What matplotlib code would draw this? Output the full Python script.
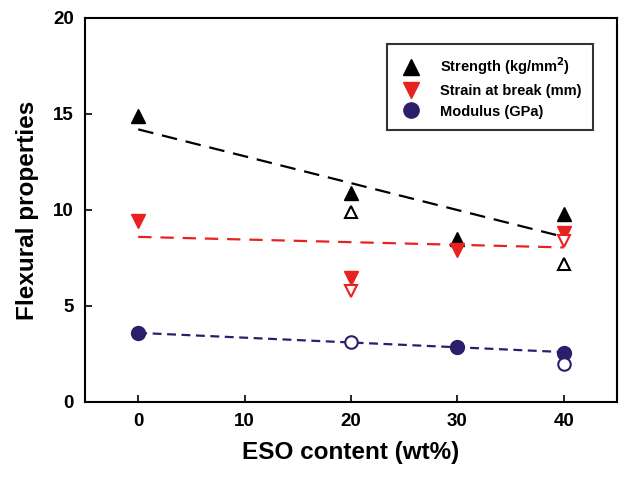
import matplotlib
matplotlib.use("Agg")
import matplotlib.pyplot as plt
from matplotlib.lines import Line2D

plt.rcParams['font.family'] = ['Liberation Sans', 'DejaVu Sans']
plt.rcParams['font.weight'] = 'bold'
plt.rcParams['mathtext.default'] = 'bf'

# Data
x_filled = [0, 20, 30, 40]
strength_filled = [14.9, 10.9, 8.5, 9.8]
strain_filled = [9.45, 6.45, 7.9, 8.8]
modulus_filled = [3.6, None, 2.85, 2.55]

x_hollow = [20, 40]
strength_hollow = [9.9, 7.2]
strain_hollow = [5.8, 8.4]
modulus_hollow = [3.1, 1.97]

trend_x = [0, 40]
strength_trend = [14.2, 8.6]
strain_trend = [8.6, 8.05]
modulus_trend = [3.6, 2.6]

xticks = [0, 10, 20, 30, 40]
yticks = [0, 5, 10, 15, 20]

black = '#000000'
red = '#e8231f'
navy = '#2b1f6b'

fig = plt.figure(figsize=(6.22, 4.8), dpi=100)
ax = fig.add_axes([0.1367, 0.1625, 0.855, 0.8])

# trend lines
ax.plot(trend_x, strength_trend, color=black, lw=1.6, dashes=(7, 4), zorder=2)
ax.plot(trend_x, strain_trend, color=red, lw=1.6, dashes=(6, 4), zorder=2)
ax.plot(trend_x, modulus_trend, color=navy, lw=1.6, dashes=(4, 2.5), zorder=2)

ms = 10
# filled markers
ax.plot(x_filled, strength_filled, ls='none', marker='^', ms=ms, color=black, zorder=3)
ax.plot(x_filled, strain_filled, ls='none', marker='v', ms=ms, color=red, zorder=3)
xm = [x for x, v in zip(x_filled, modulus_filled) if v is not None]
vm = [v for v in modulus_filled if v is not None]
ax.plot(xm, vm, ls='none', marker='o', ms=ms, color=navy, zorder=3)

# hollow markers
ax.plot(x_hollow, strength_hollow, ls='none', marker='^', ms=ms - 1, mfc='white', mec=black, mew=1.5, zorder=3)
ax.plot(x_hollow, strain_hollow, ls='none', marker='v', ms=ms - 1, mfc='white', mec=red, mew=1.5, zorder=3)
ax.plot(x_hollow, modulus_hollow, ls='none', marker='o', ms=ms - 1, mfc='white', mec=navy, mew=1.5, zorder=3)

ax.set_xlim(-5, 45)
ax.set_ylim(0, 20)
ax.set_xticks(xticks)
ax.set_yticks(yticks)
ax.tick_params(direction='in', length=5, width=1.2, labelsize=13.5, pad=8)
for lab in ax.get_xticklabels() + ax.get_yticklabels():
    lab.set_fontweight('bold')
for s in ax.spines.values():
    s.set_linewidth(1.5)

ax.set_xlabel('ESO content (wt%)', fontsize=17.5, fontweight='bold', labelpad=8)
ax.set_ylabel('Flexural properties', fontsize=17.5, fontweight='bold', labelpad=10)

handles = [
    Line2D([], [], ls='none', marker='^', ms=ms + 1, color=black),
    Line2D([], [], ls='none', marker='v', ms=ms + 1, color=red),
    Line2D([], [], ls='none', marker='o', ms=ms + 1, color=navy),
]
labels = ['Strength (kg/mm$^2$)', 'Strain at break (mm)', 'Modulus (GPa)']
leg = ax.legend(handles, labels, loc='upper right', bbox_to_anchor=(0.955, 0.932),
                fontsize=10.5, frameon=True, fancybox=False, edgecolor='black',
                borderpad=0.8, handletextpad=1.2, labelspacing=0.45, borderaxespad=0,
                handlelength=1.6)
leg.get_frame().set_linewidth(1.5)
for t in leg.get_texts():
    t.set_fontweight('bold')

fig.savefig('out.png', dpi=100)
